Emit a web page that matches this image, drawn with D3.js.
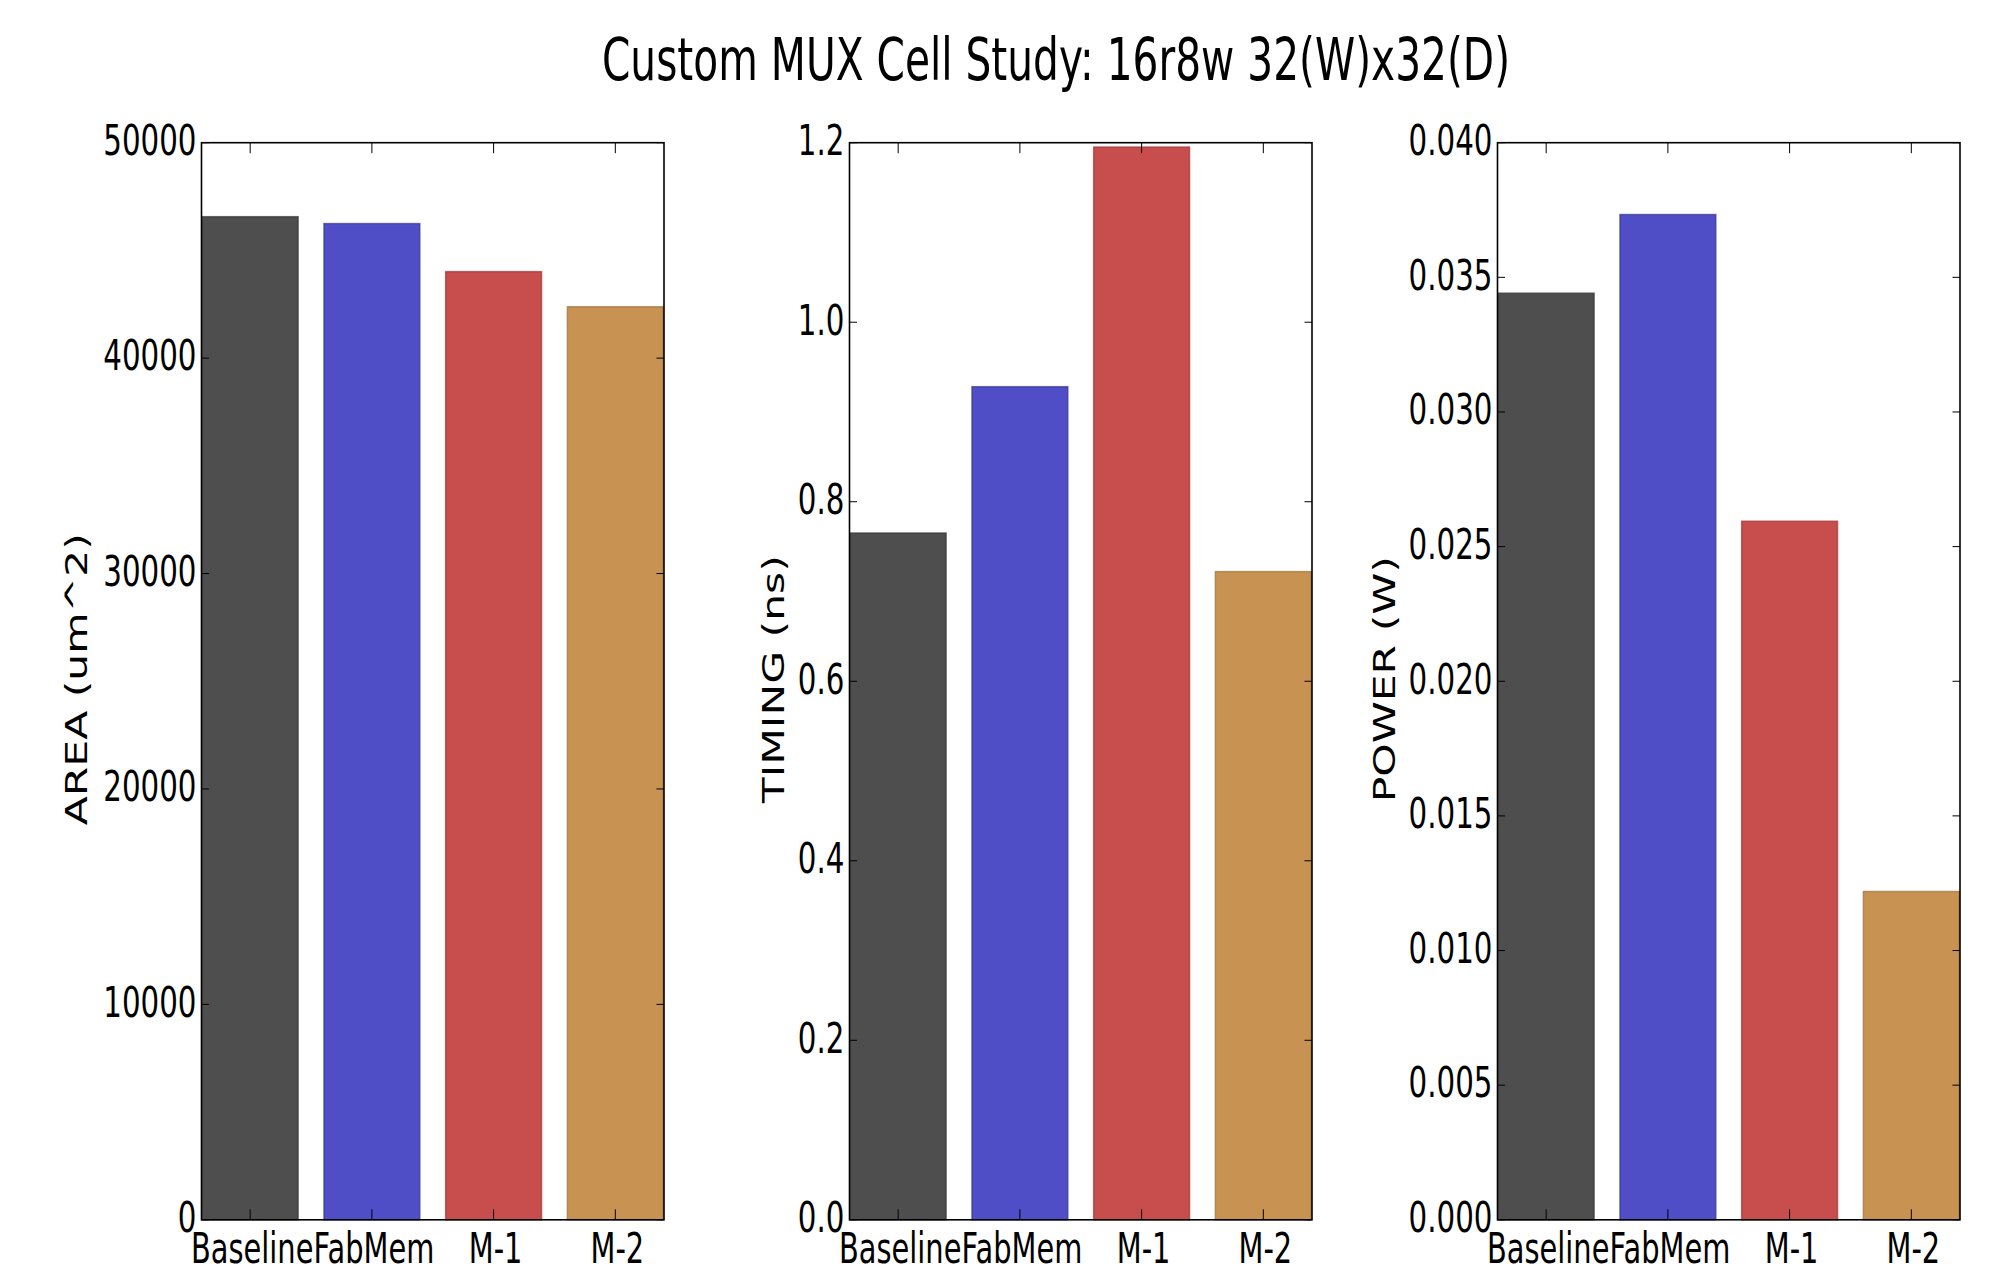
<!DOCTYPE html>
<html>
<head>
<meta charset="utf-8">
<script src="https://cdn.jsdelivr.net/npm/d3@7"></script>
<style>
  html, body { margin: 0; padding: 0; background: #fff; }
  svg { display: block; }
  text { font-family: "DejaVu Sans", sans-serif; fill: #000; }
</style>
</head>
<body>
<svg id="chart" width="1992" height="1273"></svg>
<script>
// ---- data ----
const categories = ["Baseline", "FabMem", "M-1", "M-2"];
const barColors = ["#4e4e4e", "#504ec6", "#c84e4e", "#c89352"];
const edgeColors = ["#363636", "#37358f", "#9e3434", "#9c703c"];

const areaValues = [46600, 46280, 44050, 42420];
const timingValues = [0.766, 0.929, 1.196, 0.723];
const powerValues = [0.03444, 0.03736, 0.02597, 0.01222];

const areaTicks = [0, 10000, 20000, 30000, 40000, 50000];
const timingTicks = [0.0, 0.2, 0.4, 0.6, 0.8, 1.0, 1.2];
const powerTicks = [0.000, 0.005, 0.010, 0.015, 0.020, 0.025, 0.030, 0.035, 0.040];

const titleText = "Custom MUX Cell Study: 16r8w 32(W)x32(D)";

const panels = [
  { values: areaValues, ticks: areaTicks, domain: [0, 50000], fmt: d3.format("d"), label: "AREA (um^2)", left: 201.5, labelX: 86.5 },
  { values: timingValues, ticks: timingTicks, domain: [0, 1.2], fmt: d3.format(".1f"), label: "TIMING (ns)", left: 849.5, labelX: 783.5 },
  { values: powerValues, ticks: powerTicks, domain: [0, 0.04], fmt: d3.format(".3f"), label: "POWER (W)", left: 1497.5, labelX: 1395 }
];

// ---- layout ----
const svg = d3.select("#chart");
const plotTop = 142.7, plotBottom = 1219.8, pw = 462.5;
const fs = 42.5, sx = 0.69, sxX = 0.68;   // text squeezed horizontally like the source image
const tickLenX = 10.5, tickLenY = 7.5;

// title
svg.append("text")
  .attr("transform", `translate(1056,80) scale(${sx},1)`)
  .attr("text-anchor", "middle")
  .attr("font-size", 59)
  .text(titleText);

panels.forEach(p => {
  const g = svg.append("g");
  const x = d3.scaleBand().domain(categories).range([p.left, p.left + pw]).paddingInner(0.2).paddingOuter(0);
  const y = d3.scaleLinear().domain(p.domain).range([plotBottom, plotTop]);

  // bars
  g.selectAll("rect.bar").data(p.values).join("rect")
    .attr("class", "bar")
    .attr("x", (d, i) => x(categories[i]) + 0.75)
    .attr("width", x.bandwidth() - 1.5)
    .attr("y", d => y(d) + 0.75)
    .attr("height", d => y(0) - y(d) - 0.75)
    .attr("fill", (d, i) => barColors[i])
    .attr("stroke", (d, i) => edgeColors[i])
    .attr("stroke-opacity", 0.7)
    .attr("stroke-width", 1.5);

  // y ticks (left and right, inward)
  const yt = g.append("g");
  p.ticks.forEach(t => {
    const yy = y(t);
    yt.append("line").attr("x1", p.left).attr("x2", p.left + tickLenY).attr("y1", yy).attr("y2", yy)
      .attr("stroke", "#000").attr("stroke-width", 1);
    yt.append("line").attr("x1", p.left + pw).attr("x2", p.left + pw - tickLenY).attr("y1", yy).attr("y2", yy)
      .attr("stroke", "#000").attr("stroke-width", 1);
    yt.append("text")
      .attr("transform", `translate(${p.left - 5},${yy}) scale(${sx},1)`)
      .attr("text-anchor", "end")
      .attr("dy", "0.29em")
      .attr("font-size", fs)
      .text(p.fmt(t));
  });

  // x ticks (bottom and top, inward) + labels
  const xt = g.append("g");
  categories.forEach(c => {
    const xx = x(c) + x.bandwidth() / 2;
    xt.append("line").attr("x1", xx).attr("x2", xx).attr("y1", plotBottom).attr("y2", plotBottom - tickLenX)
      .attr("stroke", "#000").attr("stroke-width", 1);
    xt.append("line").attr("x1", xx).attr("x2", xx).attr("y1", plotTop).attr("y2", plotTop + tickLenX)
      .attr("stroke", "#000").attr("stroke-width", 1);
    xt.append("text")
      .attr("transform", `translate(${xx + 2},${plotBottom + 43.5}) scale(${sxX},1)`)
      .attr("text-anchor", "middle")
      .attr("font-size", fs)
      .text(c);
  });

  // frame
  g.append("rect")
    .attr("x", p.left).attr("y", plotTop).attr("width", pw).attr("height", plotBottom - plotTop)
    .attr("fill", "none").attr("stroke", "#000").attr("stroke-width", 1.6);

  // y label
  g.append("text")
    .attr("transform", `translate(${p.labelX},${(plotTop + plotBottom) / 2 - 2}) rotate(-90) scale(1,${sx})`)
    .attr("text-anchor", "middle")
    .attr("font-size", fs)
    .text(p.label);
});
</script>
</body>
</html>
